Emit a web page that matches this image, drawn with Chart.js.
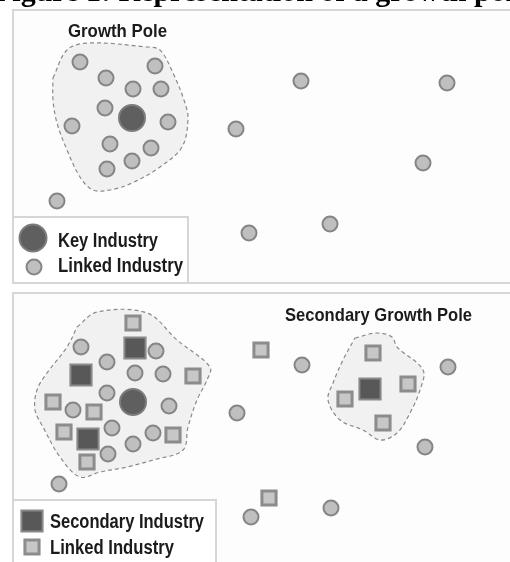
<!DOCTYPE html>
<html>
<head>
<meta charset="utf-8">
<script src="https://cdn.jsdelivr.net/npm/chart.js@4.4.1/dist/chart.umd.min.js"></script>
<style>
  html, body { margin: 0; padding: 0; background: #fff; }
  #wrap { width: 510px; height: 562px; }
</style>
</head>
<body>
<div id="wrap"><canvas id="chart" width="510" height="562"></canvas></div>
<script>
// Diagram positions in plot units (x 0-510 across, y 0-562 down).

// Top panel: growth pole
const keyTop = [[132, 118]];
const linkedTop = [
    [80, 62], [155, 66], [106, 78], [133, 89], [161, 89], [105, 108], [72, 126],
    [168, 122], [110, 144], [151, 148], [132, 161], [107, 169], [57, 201],
    [236, 129], [249, 233], [301, 81], [447, 83], [423, 163], [330, 224],
];
const poleTopOutline = [
    [53, 78], [67, 50], [88, 43], [147, 47], [160, 50], [173, 73], [185, 103],
    [188, 120], [182, 147], [160, 167], [132, 183], [110, 190], [93, 190],
    [80, 177], [67, 150], [57, 123], [53, 100],
];

// Bottom panel: secondary growth poles
const keyBottom = [[133, 402]];
const secondaryBottom = [[135, 348], [81, 375], [88, 439], [370, 389]];
const linkedSquaresBottom = [
    [133, 323], [193, 376], [53, 402], [94, 412], [64, 432], [173, 435], [87, 462],
    [261, 350], [373, 353], [408, 384], [345, 399], [383, 423], [269, 498],
];
const linkedCirclesBottom = [
    [81, 347], [156, 351], [107, 362], [135, 373], [163, 374], [107, 393], [73, 410],
    [169, 406], [112, 428], [153, 433], [133, 444], [108, 454], [59, 484],
    [237, 413], [302, 365], [448, 367], [425, 447], [251, 517], [331, 508],
];
const poleBottomOutline = [
    [77, 327], [97, 312], [147, 313], [177, 340], [210, 367], [207, 380],
    [197, 400], [188, 427], [183, 450], [153, 460], [127, 467], [100, 472],
    [80, 477], [60, 457], [43, 427], [35, 410], [37, 390], [47, 373], [67, 347],
];
const secondaryPoleOutline = [
    [355, 338], [377, 333], [392, 337], [397, 347], [423, 370], [420, 390],
    [410, 413], [397, 433], [380, 440], [363, 430], [340, 420], [328, 400],
    [333, 383], [343, 360],
];

// Text
const figureTitle = 'Figure 1: Representation of a growth pole';
const topLabel = 'Growth Pole';
const bottomLabel = 'Secondary Growth Pole';
const topLegend = ['Key Industry', 'Linked Industry'];
const bottomLegend = ['Secondary Industry', 'Linked Industry'];

// Colours
const C = {
    text: '#1b1b1b',
    frame: '#d6d6d6',
    panel: '#fdfdfd',
    poleFill: '#f1f1f1',
    poleLine: '#8a8a8a',
    linkFill: '#bfbfbf',
    linkLine: '#858585',
    keyFill: '#5f5f5f',
    keyLine: '#7c7c7c',
    secFill: '#585858',
    secLine: '#8a8a8a',
    sqFill: '#c7c7c7',
    sqLine: '#8c8c8c',
};

const pt = (a) => a.map(([x, y]) => ({ x, y }));
const closed = (a) => pt(a.concat([a[0]]));

function marks(label, data, style, r, fill, line, bw) {
    return {
        type: 'scatter',
        label,
        data: pt(data),
        showLine: false,
        order: 0,
        pointStyle: style,
        pointRadius: r,
        pointHoverRadius: r,
        backgroundColor: fill,
        borderColor: line,
        pointBackgroundColor: fill,
        pointBorderColor: line,
        pointBorderWidth: bw,
    };
}

function outline(label, data) {
    return {
        type: 'line',
        label,
        data: closed(data),
        order: 5,
        fill: 'shape',
        tension: 0.35,
        backgroundColor: C.poleFill,
        borderColor: C.poleLine,
        borderWidth: 1.2,
        borderDash: [4, 3],
        pointRadius: 0,
    };
}

// Draw text squeezed or stretched to a measured width.
function fitText(ctx, text, x, baseline, width, size, family) {
    ctx.save();
    ctx.font = `bold ${size}px ${family}`;
    const w = ctx.measureText(text).width;
    ctx.translate(x, baseline);
    ctx.scale(width / w, 1);
    ctx.fillStyle = C.text;
    ctx.textBaseline = 'alphabetic';
    ctx.fillText(text, 0, 0);
    ctx.restore();
}

const SANS = '"Liberation Sans", Arial, sans-serif';

const frames = {
    id: 'frames',
    beforeDatasetsDraw(chart) {
        const { ctx } = chart;
        ctx.save();
        ctx.fillStyle = '#fff';
        ctx.fillRect(0, 0, chart.width, chart.height);

        // two panels
        ctx.fillStyle = C.panel;
        ctx.strokeStyle = C.frame;
        ctx.lineWidth = 2;
        ctx.fillRect(13, 10, 510, 273);
        ctx.strokeRect(13, 10, 510, 273);
        ctx.fillRect(13, 293, 510, 280);
        ctx.strokeRect(13, 293, 510, 280);

        // clipped figure title
        ctx.font = 'bold 30px "Liberation Serif", "Times New Roman", serif';
        ctx.fillStyle = '#000';
        ctx.textBaseline = 'alphabetic';
        ctx.fillText(figureTitle, -6, 1);
        ctx.restore();
    },
    afterDatasetsDraw(chart) {
        const { ctx } = chart;
        const draw = Chart.helpers.drawPoint;

        fitText(ctx, topLabel, 68, 37, 99, 19, SANS);
        fitText(ctx, bottomLabel, 285, 321, 187, 19, SANS);

        // legend boxes
        ctx.save();
        ctx.fillStyle = '#fff';
        ctx.strokeStyle = C.frame;
        ctx.lineWidth = 2;
        ctx.fillRect(13, 217, 175, 66);
        ctx.strokeRect(13, 217, 175, 66);
        ctx.fillRect(13, 500, 203, 70);
        ctx.strokeRect(13, 500, 203, 70);

        ctx.fillStyle = C.keyFill;
        ctx.strokeStyle = C.keyLine;
        ctx.lineWidth = 2;
        draw(ctx, { pointStyle: 'circle', radius: 13.5, borderWidth: 2 }, 33, 238);
        ctx.fillStyle = C.linkFill;
        ctx.strokeStyle = C.linkLine;
        draw(ctx, { pointStyle: 'circle', radius: 7.5, borderWidth: 2 }, 34, 267);

        ctx.fillStyle = C.secFill;
        ctx.strokeStyle = C.secLine;
        ctx.lineWidth = 2;
        draw(ctx, { pointStyle: 'rect', radius: 15, borderWidth: 2 }, 32, 521);
        ctx.fillStyle = C.sqFill;
        ctx.strokeStyle = C.sqLine;
        ctx.lineWidth = 3;
        draw(ctx, { pointStyle: 'rect', radius: 10, borderWidth: 3 }, 32, 547);
        ctx.restore();

        fitText(ctx, topLegend[0], 58, 247, 100, 20, SANS);
        fitText(ctx, topLegend[1], 58, 272, 125, 20, SANS);
        fitText(ctx, bottomLegend[0], 50, 528, 154, 20, SANS);
        fitText(ctx, bottomLegend[1], 50, 554, 124, 20, SANS);
    },
};

new Chart(document.getElementById('chart'), {
    type: 'scatter',
    data: {
        datasets: [
            marks('Key Industry', keyTop, 'circle', 13, C.keyFill, C.keyLine, 2),
            marks('Linked Industry', linkedTop, 'circle', 7.5, C.linkFill, C.linkLine, 2),
            marks('Key Industry', keyBottom, 'circle', 13, C.keyFill, C.keyLine, 2),
            marks('Secondary Industry', secondaryBottom, 'rect', 15, C.secFill, C.secLine, 2),
            marks('Linked Industry', linkedSquaresBottom, 'rect', 10, C.sqFill, C.sqLine, 3),
            marks('Linked Industry', linkedCirclesBottom, 'circle', 7.5, C.linkFill, C.linkLine, 2),
            outline('Growth Pole', poleTopOutline),
            outline('Growth Pole', poleBottomOutline),
            outline('Secondary Growth Pole', secondaryPoleOutline),
        ],
    },
    options: {
        responsive: false,
        animation: false,
        events: [],
        layout: { padding: 0, autoPadding: false },
        plugins: {
            legend: { display: false },
            tooltip: { enabled: false },
        },
        scales: {
            x: { type: 'linear', min: 0, max: 510, display: false },
            y: { type: 'linear', min: 0, max: 562, reverse: true, display: false },
        },
    },
    plugins: [frames],
});
</script>
</body>
</html>
